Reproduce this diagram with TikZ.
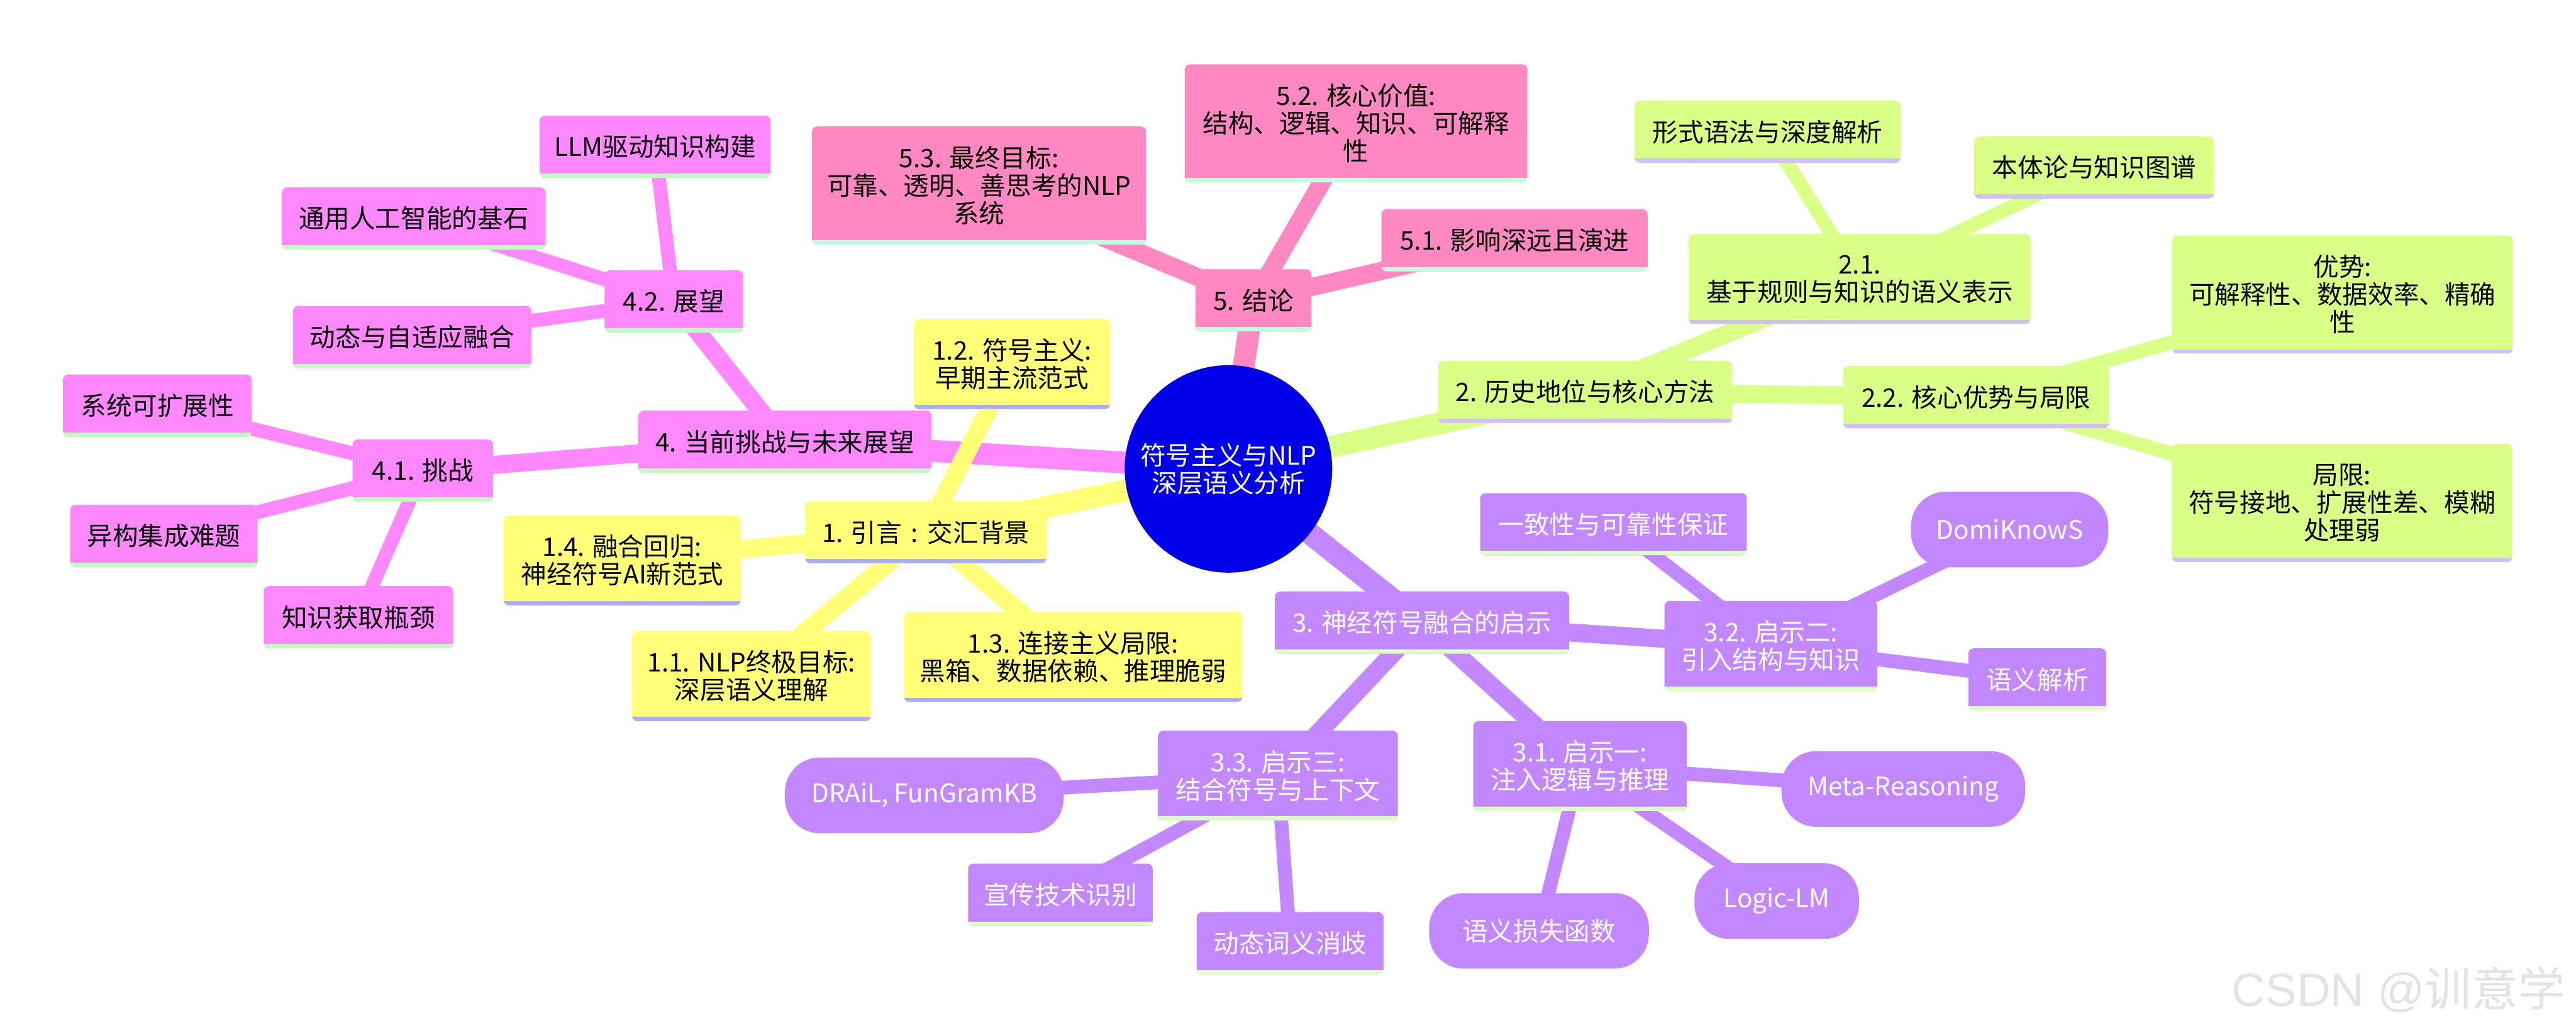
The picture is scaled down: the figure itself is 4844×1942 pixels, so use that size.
\documentclass[tikz,border=0pt]{standalone}
\usepackage{fontspec}
\setmainfont{Noto Sans CJK SC}
\newfontfamily\markfont{Liberation Sans}
\usetikzlibrary{backgrounds}
\definecolor{rootblue}{RGB}{0,0,232}
\definecolor{secyellow}{RGB}{255,255,120}
\definecolor{secyellowline}{RGB}{170,170,255}
\definecolor{secgreen}{RGB}{217,255,134}
\definecolor{secgreenline}{RGB}{210,190,255}
\definecolor{secpurple}{RGB}{195,136,255}
\definecolor{secpurpleline}{RGB}{221,255,192}
\definecolor{secmagenta}{RGB}{255,136,255}
\definecolor{secmagentaline}{RGB}{190,255,190}
\definecolor{secpink}{RGB}{255,136,195}
\definecolor{secpinkline}{RGB}{190,255,224}

\begin{document}
\begin{tikzpicture}[x=0.01cm,y=-0.01cm,font=\fontsize{13.66}{14.8}\selectfont,
    mmbox/.style={rectangle,rounded corners=0.1cm,inner sep=0pt,align=center},
    bottomline/.style={path picture={\fill[#1,sharp corners] (path picture bounding box.south west) rectangle ([yshift=0.08cm]path picture bounding box.south east);}},
    yellowbox/.style={mmbox,fill=secyellow,bottomline=secyellowline},
    greenbox/.style={mmbox,fill=secgreen,bottomline=secgreenline},
    purplebox/.style={mmbox,fill=secpurple,text=white,bottomline=secpurpleline},
    purplepill/.style={rectangle,rounded corners=0.65cm,inner sep=0pt,align=center,fill=secpurple,text=white,minimum height=1.42cm},
    magentabox/.style={mmbox,fill=secmagenta,bottomline=secmagentaline},
    pinkbox/.style={mmbox,fill=secpink,bottomline=secpinkline},
    lineone/.style={minimum height=1.17cm},
    linetwo/.style={minimum height=1.69cm},
    linethree/.style={minimum height=2.22cm}]
  \useasboundingbox (0,0) rectangle (4844,1942);

  \node[circle,fill=rootblue,text=white,minimum size=3.9cm,inner sep=0pt,align=center] (root) at (2310,882) {符号主义与NLP\\深层语义分析};

  % 1
  \node[yellowbox,lineone,minimum width=4.54cm] (n1) at (1741,1001) {1. 引言\makebox[1em][c]{:}交汇背景};
  \node[yellowbox,linetwo,minimum width=4.49cm] (n11) at (1413,1272) {1.1. NLP终极目标:\\深层语义理解};
  \node[yellowbox,linetwo,minimum width=3.69cm] (n12) at (1903,685) {1.2. 符号主义:\\早期主流范式};
  \node[yellowbox,linetwo,minimum width=6.36cm] (n13) at (2018,1236) {1.3. 连接主义局限:\\黑箱、数据依赖、推理脆弱};
  \node[yellowbox,linetwo,minimum width=4.46cm] (n14) at (1170,1054) {1.4. 融合回归:\\神经符号AI新范式};

  % 2
  \node[greenbox,lineone,minimum width=5.53cm] (n2) at (2981,737) {2. 历史地位与核心方法};
  \node[greenbox,linetwo,minimum width=6.43cm] (n21) at (3497,525) {2.1.\\基于规则与知识的语义表示};
  \node[greenbox,lineone,minimum width=5.00cm] (n211) at (3324,248) {形式语法与深度解析};
  \node[greenbox,lineone,minimum width=4.51cm] (n212) at (3938,315) {本体论与知识图谱};
  \node[greenbox,lineone,minimum width=5.00cm] (n22) at (3716,747) {2.2. 核心优势与局限};
  \node[greenbox,linethree,minimum width=6.40cm] (n221) at (4405,554) {优势:\\可解释性、数据效率、精确\\性};
  \node[greenbox,linethree,minimum width=6.40cm] (n222) at (4404,946) {局限:\\符号接地、扩展性差、模糊\\处理弱};

  % 3
  \node[purplebox,lineone,minimum width=5.53cm] (n3) at (2674,1171) {3. 神经符号融合的启示};
  \node[purplebox,linetwo,minimum width=4.01cm] (n31) at (2971,1441) {3.1. 启示一:\\注入逻辑与推理};
  \node[purplepill,minimum width=4.58cm] (n311) at (3579,1484) {Meta-Reasoning};
  \node[purplepill,minimum width=3.09cm] (n312) at (3341,1695) {Logic-LM};
  \node[purplepill,minimum width=4.13cm] (n313) at (2894,1751) {语义损失函数};
  \node[purplebox,linetwo,minimum width=4.00cm] (n32) at (3330,1215) {3.2. 启示二:\\引入结构与知识};
  \node[purplebox,lineone,minimum width=5.01cm] (n321) at (3034,986) {一致性与可靠性保证};
  \node[purplepill,minimum width=3.71cm] (n322) at (3779,996) {DomiKnowS};
  \node[purplebox,lineone,minimum width=2.59cm] (n323) at (3831,1278) {语义解析};
  \node[purplebox,linetwo,minimum width=4.51cm] (n33) at (2403,1459) {3.3. 启示三:\\结合符号与上下文};
  \node[purplepill,minimum width=5.24cm] (n331) at (1738,1496) {DRAiL, FunGramKB};
  \node[purplebox,lineone,minimum width=3.47cm] (n332) at (1994,1683) {宣传技术识别};
  \node[purplebox,lineone,minimum width=3.51cm] (n333) at (2426,1774) {动态词义消歧};

  % 4
  \node[magentabox,lineone,minimum width=5.51cm] (n4) at (1476,831) {4. 当前挑战与未来展望};
  \node[magentabox,lineone,minimum width=2.64cm] (n41) at (795,885) {4.1. 挑战};
  \node[magentabox,lineone,minimum width=3.55cm] (n411) at (296,763) {系统可扩展性};
  \node[magentabox,lineone,minimum width=3.52cm] (n412) at (308,1008) {异构集成难题};
  \node[magentabox,lineone,minimum width=3.56cm] (n413) at (674,1161) {知识获取瓶颈};
  \node[magentabox,lineone,minimum width=2.60cm] (n42) at (1267,567) {4.2. 展望};
  \node[magentabox,lineone,minimum width=4.34cm] (n421) at (1232,276) {LLM驱动知识构建};
  \node[magentabox,lineone,minimum width=4.96cm] (n422) at (778,411) {通用人工智能的基石};
  \node[magentabox,lineone,minimum width=4.48cm] (n423) at (775,634) {动态与自适应融合};

  % 5
  \node[pinkbox,lineone,minimum width=2.18cm] (n5) at (2357,565) {5. 结论};
  \node[pinkbox,lineone,minimum width=5.00cm] (n51) at (2848,452) {5.1. 影响深远且演进};
  \node[pinkbox,linethree,minimum width=6.44cm] (n52) at (2550,232) {5.2. 核心价值:\\结构、逻辑、知识、可解释\\性};
  \node[pinkbox,linethree,minimum width=6.28cm] (n53) at (1841,349) {5.3. 最终目标:\\可靠、透明、善思考的NLP\\系统};

  \node[anchor=east,text=black!11,font=\fontsize{25}{25}\selectfont] (mark) at (4836,1862) {{\markfont CSDN @}训意学};

  \begin{scope}[on background layer]
    \foreach \b/\c in {n1/secyellow,n2/secgreen,n3/secpurple,n4/secmagenta,n5/secpink}
      \draw[\c,line width=0.41cm] (root.center) -- (\b.center);
    \foreach \a/\b in {n1/n11,n1/n12,n1/n13,n1/n14}
      \draw[secyellow,line width=0.34cm] (\a.center) -- (\b.center);
    \foreach \a/\b in {n2/n21,n2/n22}
      \draw[secgreen,line width=0.34cm] (\a.center) -- (\b.center);
    \foreach \a/\b in {n21/n211,n21/n212,n22/n221,n22/n222}
      \draw[secgreen,line width=0.26cm] (\a.center) -- (\b.center);
    \foreach \a/\b in {n3/n31,n3/n32,n3/n33}
      \draw[secpurple,line width=0.34cm] (\a.center) -- (\b.center);
    \foreach \a/\b in {n31/n311,n31/n312,n31/n313,n32/n321,n32/n322,n32/n323,n33/n331,n33/n332,n33/n333}
      \draw[secpurple,line width=0.26cm] (\a.center) -- (\b.center);
    \foreach \a/\b in {n4/n41,n4/n42}
      \draw[secmagenta,line width=0.34cm] (\a.center) -- (\b.center);
    \foreach \a/\b in {n41/n411,n41/n412,n41/n413,n42/n421,n42/n422,n42/n423}
      \draw[secmagenta,line width=0.26cm] (\a.center) -- (\b.center);
    \foreach \a/\b in {n5/n51,n5/n52,n5/n53}
      \draw[secpink,line width=0.34cm] (\a.center) -- (\b.center);
  \end{scope}
\end{tikzpicture}
\end{document}
